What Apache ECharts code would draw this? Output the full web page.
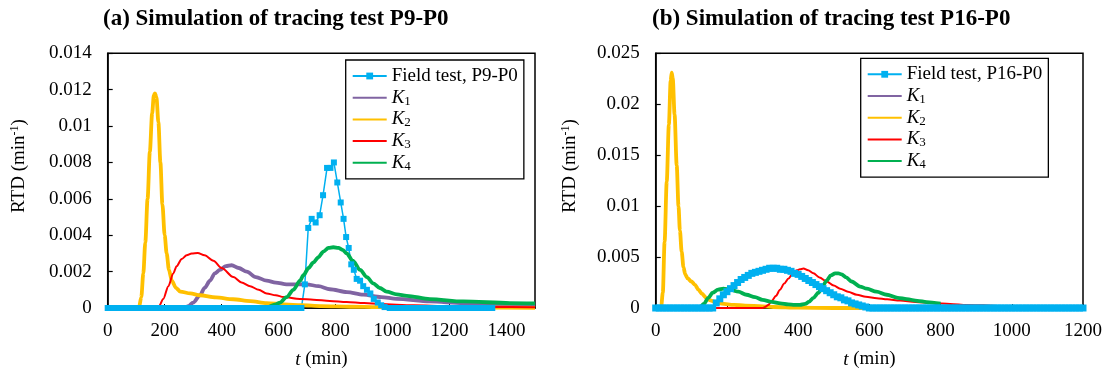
<!DOCTYPE html>
<html>
<head>
<meta charset="utf-8">
<script src="https://cdn.jsdelivr.net/npm/echarts@6/dist/echarts.min.js"></script>
<style>
html,body{margin:0;padding:0;background:#fff;}
#c{width:1107px;height:374px;}
</style>
</head>
<body>
<div id="c"></div>
<script>
// ---------- DATA ----------
const titleA = '(a) Simulation of tracing test P9-P0';
const titleB = '(b) Simulation of tracing test P16-P0';
const xTicksA = {min: 0, max: 1500, interval: 200};
const xTicksB = {min: 0, max: 1200, interval: 200};
const yTicksA = {min: 0, max: 0.014, interval: 0.002};
const yTicksB = {min: 0, max: 0.025, interval: 0.005};

// Panel (a): field test P9-P0 (time, value)
const aFieldT = [0,10,20,30,40,50,60,70,80,90,100,110,120,130,140,150,160,170,180,190,200,210,220,230,240,250,260,270,280,290,300,310,320,330,340,350,360,370,380,390,400,410,420,430,440,450,460,470,480,490,500,510,520,530,540,550,560,570,580,590,600,610,620,630,640,650,660,670,680,
  692,704,716,730,744,756,770,782,794,806,818,828,837,846,855,864,874,886,897,910,922,934,948,960,972,
  990,1000,1010,1020,1030,1040,1050,1060,1070,1080,1090,1100,1110,1120,1130,1140,1150,1160,1170,1180,1190,1200,1210,1220,1230,1240,1250,1260,1270,1280,1290,1300,1310,1320,1330,1340,1350];
const aFieldV = [0,0,0,0,0,0,0,0,0,0,0,0,0,0,0,0,0,0,0,0,0,0,0,0,0,0,0,0,0,0,0,0,0,0,0,0,0,0,0,0,0,0,0,0,0,0,0,0,0,0,0,0,0,0,0,0,0,0,0,0,0,0,0,0,0,0,0,0,0,
  0.0013,0.0044,0.0049,0.0047,0.0051,0.0062,0.0077,0.0077,0.0080,0.0069,0.0058,0.0049,0.0039,0.0033,0.0024,0.0021,0.0016,0.0015,0.0012,0.0010,0.0008,0.0005,0.0003,0.00015,0.00005,
  0,0,0,0,0,0,0,0,0,0,0,0,0,0,0,0,0,0,0,0,0,0,0,0,0,0,0,0,0,0,0,0,0,0,0,0,0];
const aK1 = [[0,0],[270,0],[283,0.0001],[300,0.0003],[324,0.0007],[340,0.0011],[359,0.0015],[376,0.0019],[394,0.0021],[415,0.0023],[435,0.00235],[460,0.0022],[488,0.0020],[520,0.0017],[558,0.0015],[590,0.0014],[628,0.0013],[660,0.0013],[698,0.0013],[740,0.0012],[780,0.00103],[840,0.00087],[897,0.00073],[960,0.0006],[1014,0.0005],[1131,0.00036],[1248,0.00027],[1412,0.00018],[1500,0.00015]];
const aK2 = [[0,0],[100,0],[110,0.00005],[118,0.0006],[125,0.0019],[132,0.0036],[140,0.0060],[148,0.0086],[156,0.0107],[162,0.0117],[166,0.0118],[171,0.0116],[178,0.0102],[185,0.0080],[192,0.0057],[200,0.0040],[207,0.0030],[215,0.0021],[225,0.0015],[240,0.0011],[255,0.0009],[290,0.0008],[324,0.0007],[380,0.00058],[440,0.00048],[500,0.00038],[558,0.00027],[620,0.0002],[680,0.00015],[750,0.0001],[850,0.00007],[950,0.00005],[1100,0.00003],[1300,0.00002],[1500,0.00001]];
const aK3 = [[0,0],[170,0],[180,0.0001],[195,0.0005],[213,0.0012],[230,0.0019],[242,0.0023],[260,0.0027],[277,0.0029],[295,0.0030],[316,0.00302],[340,0.0029],[371,0.0026],[400,0.0022],[441,0.0017],[470,0.0014],[500,0.0012],[530,0.0010],[558,0.0008],[590,0.0007],[617,0.0006],[675,0.0005],[722,0.00045],[780,0.00039],[839,0.00033],[900,0.00027],[956,0.00022],[1073,0.00015],[1200,0.0001],[1350,0.00006],[1500,0.00004]];
const aK4 = [[0,0],[540,0],[560,0.00005],[590,0.0002],[605,0.0003],[628,0.0006],[652,0.0010],[675,0.0015],[687,0.0018],[705,0.0022],[722,0.0025],[740,0.0028],[757,0.0031],[775,0.0033],[792,0.00334],[810,0.0033],[825,0.0032],[839,0.0030],[860,0.0026],[886,0.0021],[910,0.0017],[932,0.00135],[955,0.0011],[979,0.0009],[1015,0.00075],[1050,0.00067],[1131,0.00049],[1248,0.00036],[1412,0.00027],[1500,0.00025]];

// Panel (b): field test P16-P0
const bFieldT = [0,10,20,30,40,50,60,70,80,90,100,110,120,130,140,150,160,
  170,180,190,200,210,220,230,240,250,260,270,280,290,300,310,320,330,340,350,360,370,380,390,400,410,420,430,440,450,460,470,480,490,500,510,520,530,540,550,560,570,580,590,
  600,610,620,630,640,650,660,670,680,690,700,710,720,730,740,750,760,770,780,790,800,810,820,830,840,850,860,870,880,890,900,910,920,930,940,950,960,970,980,990,1000,1010,1020,1030,1040,1050,1060,1070,1080,1090,1100,1110,1120,1130,1140,1150,1160,1170,1180,1190,1200];
const bFieldV = [0,0,0,0,0,0,0,0,0,0,0,0,0,0,0,0,0,
  0.0005,0.0009,0.0013,0.0016,0.0019,0.0022,0.0025,0.0028,0.0030,0.0032,0.0034,0.0035,0.0036,0.0037,0.0038,0.0039,0.0039,0.0039,0.0038,0.0038,0.0037,0.0036,0.0034,0.0033,0.0031,0.0029,0.0027,0.0025,0.0023,0.0021,0.0019,0.0017,0.0015,0.0013,0.0011,0.0010,0.0008,0.0007,0.0005,0.0004,0.0003,0.0002,0.0001,
  0,0,0,0,0,0,0,0,0,0,0,0,0,0,0,0,0,0,0,0,0,0,0,0,0,0,0,0,0,0,0,0,0,0,0,0,0,0,0,0,0,0,0,0,0,0,0,0,0,0,0,0,0,0,0,0,0,0,0,0,0];
const bK1 = [];
const bK2 = [[0,0],[15,0],[20,0.0015],[25,0.0065],[31,0.0124],[37,0.0180],[42,0.0223],[45,0.0231],[48,0.0225],[53,0.0190],[59,0.0140],[64,0.0100],[68,0.0076],[73,0.0055],[78,0.0040],[83,0.0033],[90,0.0029],[100,0.0026],[110,0.0023],[120,0.0018],[130,0.0014],[142,0.0010],[153,0.00075],[170,0.00055],[185,0.00043],[220,0.0003],[251,0.00024],[300,0.00015],[330,0.0001],[400,0.00003],[500,0],[1200,0]];
const bK3 = [[0,0],[120,0],[300,0],[307,0.0001],[316,0.0003],[326,0.0007],[338,0.0012],[349,0.0018],[361,0.0024],[373,0.0029],[385,0.0034],[396,0.0037],[405,0.0038],[415,0.00387],[428,0.0037],[443,0.0034],[460,0.0030],[480,0.0026],[500,0.0022],[518,0.0019],[540,0.0016],[565,0.0013],[590,0.0011],[621,0.00095],[650,0.00085],[686,0.00074],[730,0.0006],[780,0.00048],[827,0.0004],[874,0.0003],[920,0.00026],[970,0.0002],[1014,0.00015],[1100,0.00012],[1200,0.0001]];
const bK4 = [[0,0],[115,0],[125,0.0001],[135,0.0004],[148,0.0010],[160,0.0015],[175,0.0018],[190,0.0019],[210,0.0018],[232,0.0016],[255,0.0013],[279,0.00106],[300,0.0008],[326,0.0006],[350,0.00045],[372,0.00035],[390,0.0003],[405,0.0003],[420,0.0004],[430,0.0006],[443,0.0010],[457,0.0015],[470,0.0022],[480,0.0027],[492,0.0032],[504,0.0034],[513,0.0034],[522,0.0033],[535,0.0030],[550,0.0026],[574,0.0021],[593,0.0019],[620,0.0016],[649,0.0013],[680,0.0010],[705,0.00087],[735,0.0007],[761,0.00058],[800,0.00042]];

const legendNames = {
  aField: 'Field test, P9-P0', bField: 'Field test, P16-P0',
  aK1: '{k|K}{s|1}', aK2: '{k|K}{s|2}', aK3: '{k|K}{s|3}', aK4: '{k|K}{s|4}',
  bK1: '{k|K}{s|1}', bK2: '{k|K}{s|2}', bK3: '{k|K}{s|3}', bK4: '{k|K}{s|4}'
};

// ---------- STYLE ----------
const F = '"Liberation Serif","Times New Roman",serif';
const C = {field: '#00B0F0', k1: '#8064A2', k2: '#FFC000', k3: '#FF0000', k4: '#00B050'};
const zip = (t, v) => t.map((x, i) => [x, v[i]]);

const chart = echarts.init(document.getElementById('c'), null, {renderer: 'canvas'});

const gridA = {left: 107.7, top: 53.3, width: 427.3, height: 258.4};
const gridB = {left: 655.7, top: 53.3, width: 427.3, height: 258.4};

function xAxis(idx, t, showMax) {
  return {
    gridIndex: idx, type: 'value', min: t.min, max: t.max, interval: t.interval,
    axisLine: {show: true, onZero: false, lineStyle: {color: '#000', width: 1.5}},
    axisTick: {show: true, inside: true, length: 4, lineStyle: {color: '#000', width: 1}},
    axisLabel: {margin: 14, fontFamily: F, fontSize: 19, color: '#000', showMaxLabel: showMax,
      formatter: v => String(v)},
    splitLine: {show: false},
    name: '{i|t}{n| (min)}', nameLocation: 'middle', nameGap: 42,
    nameTextStyle: {rich: {
      i: {fontFamily: F, fontSize: 19, fontStyle: 'italic', color: '#000'},
      n: {fontFamily: F, fontSize: 19, color: '#000'}
    }}
  };
}
function yAxis(idx, t) {
  return {
    gridIndex: idx, type: 'value', min: t.min, max: t.max, interval: t.interval,
    axisLine: {show: true, lineStyle: {color: '#000', width: 1.5}},
    axisTick: {show: true, inside: true, length: 5, lineStyle: {color: '#000', width: 1.2}},
    axisLabel: {margin: 16, fontFamily: F, fontSize: 19, color: '#000', formatter: v => String(v)},
    splitLine: {show: false}
  };
}
const legendRich = {
  k: {fontFamily: F, fontSize: 19, fontStyle: 'italic', color: '#000', lineHeight: 20},
  s: {fontFamily: F, fontSize: 13, color: '#000', verticalAlign: 'bottom', lineHeight: 6}
};
function legend(left, top, names) {
  return {
    orient: 'vertical', left: left, top: top,
    itemWidth: 34, itemHeight: 8.5, itemGap: 1.7,
    padding: [6, 6, 6, 6],
    borderColor: '#000', borderWidth: 1.3, backgroundColor: '#fff',
    data: names,
    formatter: n => legendNames[n],
    textStyle: {fontFamily: F, fontSize: 19, color: '#000', lineHeight: 20, rich: legendRich}
  };
}
function line(name, xi, data, color, width, extra) {
  return Object.assign({
    type: 'line', name: name, xAxisIndex: xi, yAxisIndex: xi, data: data,
    symbol: 'none', smooth: 0.3, smoothMonotone: 'x',
    lineStyle: {color: color, width: width}, itemStyle: {color: color, opacity: 0},
    emphasis: {disabled: true}
  }, extra || {});
}
const fieldStyle = (c, size) => ({symbol: 'rect', symbolSize: size, smooth: false, showAllSymbol: true,
  itemStyle: {color: c, opacity: 1}});

const yName = (x) => ({
  type: 'text', x: x, y: 166, rotation: Math.PI / 2,
  style: {
    text: '{n|RTD (min}{p|-1}{n|)}', align: 'center', verticalAlign: 'middle',
    rich: {
      n: {fontFamily: F, fontSize: 19, fill: '#000', lineHeight: 20},
      p: {fontFamily: F, fontSize: 12, fill: '#000', verticalAlign: 'top', lineHeight: 10}
    }
  }
});

chart.setOption({
  animation: false,
  backgroundColor: '#fff',
  title: [
    {text: titleA, left: 103, top: 8, padding: 0, textStyle: {fontFamily: F, fontSize: 23, fontWeight: 'bold', color: '#000'}},
    {text: titleB, left: 652, top: 8, padding: 0, textStyle: {fontFamily: F, fontSize: 23, fontWeight: 'bold', color: '#000'}}
  ],
  grid: [
    Object.assign({show: true, borderColor: '#000', borderWidth: 1.5, containLabel: false}, gridA),
    Object.assign({show: true, borderColor: '#000', borderWidth: 1.5, containLabel: false}, gridB)
  ],
  xAxis: [xAxis(0, xTicksA, false), xAxis(1, xTicksB, true)],
  yAxis: [yAxis(0, yTicksA), yAxis(1, yTicksB)],
  legend: [
    legend(345.7, 60, ['aField', 'aK1', 'aK2', 'aK3', 'aK4']),
    legend(860.7, 58.3, ['bField', 'bK1', 'bK2', 'bK3', 'bK4'])
  ],
  graphic: [yName(19), yName(569.6)],
  series: [
    line('aField', 0, zip(aFieldT, aFieldV), C.field, 1.5, fieldStyle(C.field, 6)),
    line('aK1', 0, aK1, C.k1, 3.8),
    line('aK2', 0, aK2, C.k2, 3.8),
    line('aK3', 0, aK3, C.k3, 2),
    line('aK4', 0, aK4, C.k4, 3.8),
    line('bField', 1, zip(bFieldT, bFieldV), C.field, 1.5, fieldStyle(C.field, 7)),
    line('bK1', 1, bK1, C.k1, 3.8),
    line('bK2', 1, bK2, C.k2, 3.8),
    line('bK3', 1, bK3, C.k3, 2),
    line('bK4', 1, bK4, C.k4, 3.8)
  ]
});
</script>
</body>
</html>
